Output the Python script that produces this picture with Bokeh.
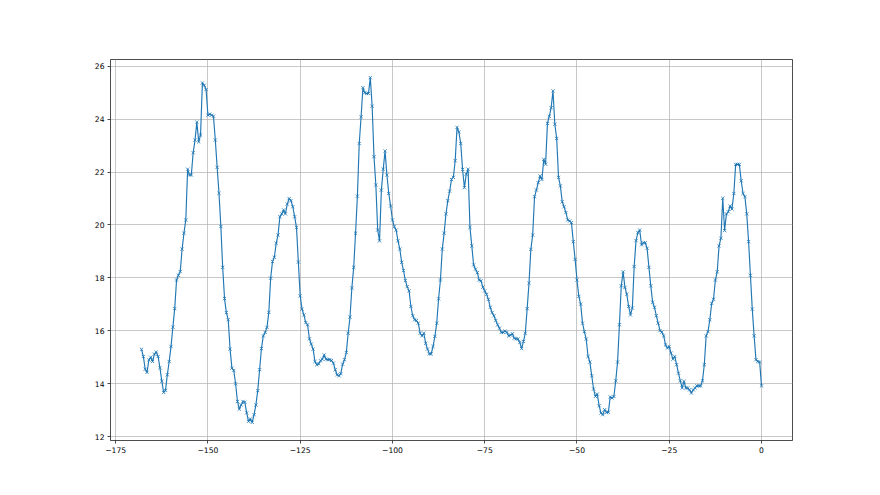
import numpy as np
from bokeh.plotting import figure
from bokeh.models import Range1d, FixedTicker, ColumnDataSource
from bokeh.embed import file_html
from bokeh.resources import INLINE

# ---- data (hours relative to now, value) ----
x_start = -168.0
x_step = 0.5

values = [
    15.3, 15.03, 14.55, 14.43, 14.9, 15.0, 14.84, 15.12, 15.2, 15.03,
    14.6, 14.1, 13.67, 13.75, 14.34, 14.84, 15.41, 16.14, 16.84, 17.92,
    18.1, 18.24, 19.09, 19.69, 20.19, 22.11, 21.89, 21.89, 22.73, 23.21,
    23.89, 23.14, 23.4, 25.37, 25.28, 25.12, 24.15, 24.19, 24.15, 24.11,
    23.21, 22.18, 21.2, 19.94, 18.4, 17.22, 16.69, 16.42, 15.31, 14.59,
    14.5, 14.0, 13.33, 13.04,
    13.2, 13.33, 13.3, 12.9, 12.58, 12.67, 12.54, 12.83, 13.2, 13.74,
    14.53, 15.33, 15.81, 15.94, 16.13, 16.7, 17.99, 18.62, 18.78, 19.31,
    19.62, 20.31, 20.42, 20.57, 20.42, 20.79, 21.0, 20.92, 20.69, 20.31,
    19.91, 18.6, 17.32, 16.82, 16.6, 16.31, 16.23, 15.7, 15.5, 15.31,
    14.84, 14.72, 14.75, 14.87, 14.93, 15.09, 14.93, 14.91, 14.91, 14.88,
    14.78, 14.53, 14.34, 14.3, 14.38, 14.74,
    14.91, 15.18, 15.91, 16.52, 17.62, 18.4, 19.69, 21.09, 23.08, 24.09,
    25.19, 25.0, 24.97, 24.97, 25.57, 24.49, 22.58, 21.51, 19.81, 19.4,
    21.32, 22.11, 22.8, 21.89, 21.19, 20.72, 20.19, 19.94, 19.81, 19.4,
    19.09, 18.59, 18.28, 17.9, 17.67, 17.51, 16.92, 16.57, 16.42, 16.39,
    16.29, 15.91, 15.81, 15.91, 15.53, 15.31, 15.13, 15.13, 15.41, 15.79,
    16.29, 17.21, 17.92, 19.09, 19.69, 20.42, 20.92, 21.28,
    21.72, 21.8, 22.43, 23.69, 23.52, 23.08, 22.1, 21.41, 21.92, 22.11,
    19.91, 19.21, 18.49, 18.33, 18.2, 17.92, 17.89, 17.65, 17.51, 17.38,
    17.19, 16.89, 16.69, 16.57, 16.39, 16.23, 16.1, 15.94, 15.94, 15.99,
    15.94, 15.81, 15.84, 15.89, 15.72, 15.7, 15.69, 15.56, 15.33, 15.6,
    15.91, 16.84, 17.8, 19.08, 19.62, 21.07, 21.32, 21.6, 21.85, 21.72,
    22.48, 22.3, 23.84, 24.11, 24.43, 25.07,
    23.81, 23.27, 21.8, 21.48, 20.88, 20.69, 20.47, 20.19, 20.15, 20.09,
    19.37, 18.7, 17.92, 17.3, 17.01, 16.29, 15.97, 15.69, 15.03, 14.82,
    14.3, 13.8, 13.52, 13.61, 13.17, 12.89, 12.83, 13.02, 12.92, 12.92,
    13.5, 13.46, 13.52, 14.11, 14.82, 16.23, 17.7, 18.23, 17.64, 17.38,
    16.92, 16.6, 16.86, 18.43, 19.41, 19.71, 19.81, 19.25, 19.33, 19.33,
    19.12, 18.4, 17.7, 17.08, 16.89, 16.57, 16.29, 16.01,
    15.95,
    15.81, 15.47, 15.35, 15.41, 15.16, 14.93, 15.03, 14.72,
    14.4, 14.11, 13.84, 14.09, 13.84, 13.84, 13.77, 13.65, 13.77, 13.84,
    13.92, 13.92, 13.92, 14.11, 14.72, 15.81, 15.97, 16.42, 17.04, 17.19,
    17.92, 18.23, 19.21, 19.5, 21.01, 19.79, 20.42, 20.5, 20.72, 20.6,
    21.19, 22.29, 22.29, 22.29, 21.67, 21.19, 21.07, 20.42, 19.37, 18.1,
    16.82, 15.81, 14.91, 14.84, 14.82, 13.92,
]

x_ticks = [-175, -150, -125, -100, -75, -50, -25, 0]
x_tick_labels = ["\u2212175", "\u2212150", "\u2212125", "\u2212100", "\u221275", "\u221250", "\u221225", "0"]
y_ticks = [12, 14, 16, 18, 20, 22, 24, 26]
y_tick_labels = ["12", "14", "16", "18", "20", "22", "24", "26"]

hours = x_start + x_step * np.arange(len(values))
source = ColumnDataSource(data=dict(x=hours, y=values))

C0 = "#1f77b4"
FONT = "DejaVu Sans"

p = figure(width=864, height=480, output_backend="svg", toolbar_location=None,
           x_range=Range1d(-176.4, 8.4), y_range=Range1d(11.855, 26.255),
           min_border_left=110, min_border_right=72, min_border_top=59, min_border_bottom=40)
p.background_fill_color = "white"
p.border_fill_color = "white"
p.outline_line_color = "black"
p.outline_line_width = 0.7

p.line("x", "y", source=source, line_color=C0, line_width=1.15)
p.scatter("x", "y", source=source, marker="x", size=4.6, line_color=C0, line_width=0.8)

for ax, ticks, labels in ((p.xaxis[0], x_ticks, x_tick_labels), (p.yaxis[0], y_ticks, y_tick_labels)):
    ax.ticker = FixedTicker(ticks=ticks)
    ax.major_label_overrides = {t: l for t, l in zip(ticks, labels)}
    ax.axis_line_color = None
    ax.major_tick_in = 0
    ax.major_tick_out = 3
    ax.major_tick_line_color = "black"
    ax.major_tick_line_width = 0.7
    ax.minor_tick_line_color = None
    ax.major_label_text_font = FONT
    ax.major_label_text_font_size = "7.6px"
    ax.major_label_text_color = "black"
    ax.major_label_standoff = 3

p.xgrid.ticker = FixedTicker(ticks=x_ticks)
p.ygrid.ticker = FixedTicker(ticks=y_ticks)
for g in (p.xgrid[0], p.ygrid[0]):
    g.grid_line_color = "#b0b0b0"
    g.grid_line_width = 0.7

open("out.html", "w").write(file_html(p, INLINE))
